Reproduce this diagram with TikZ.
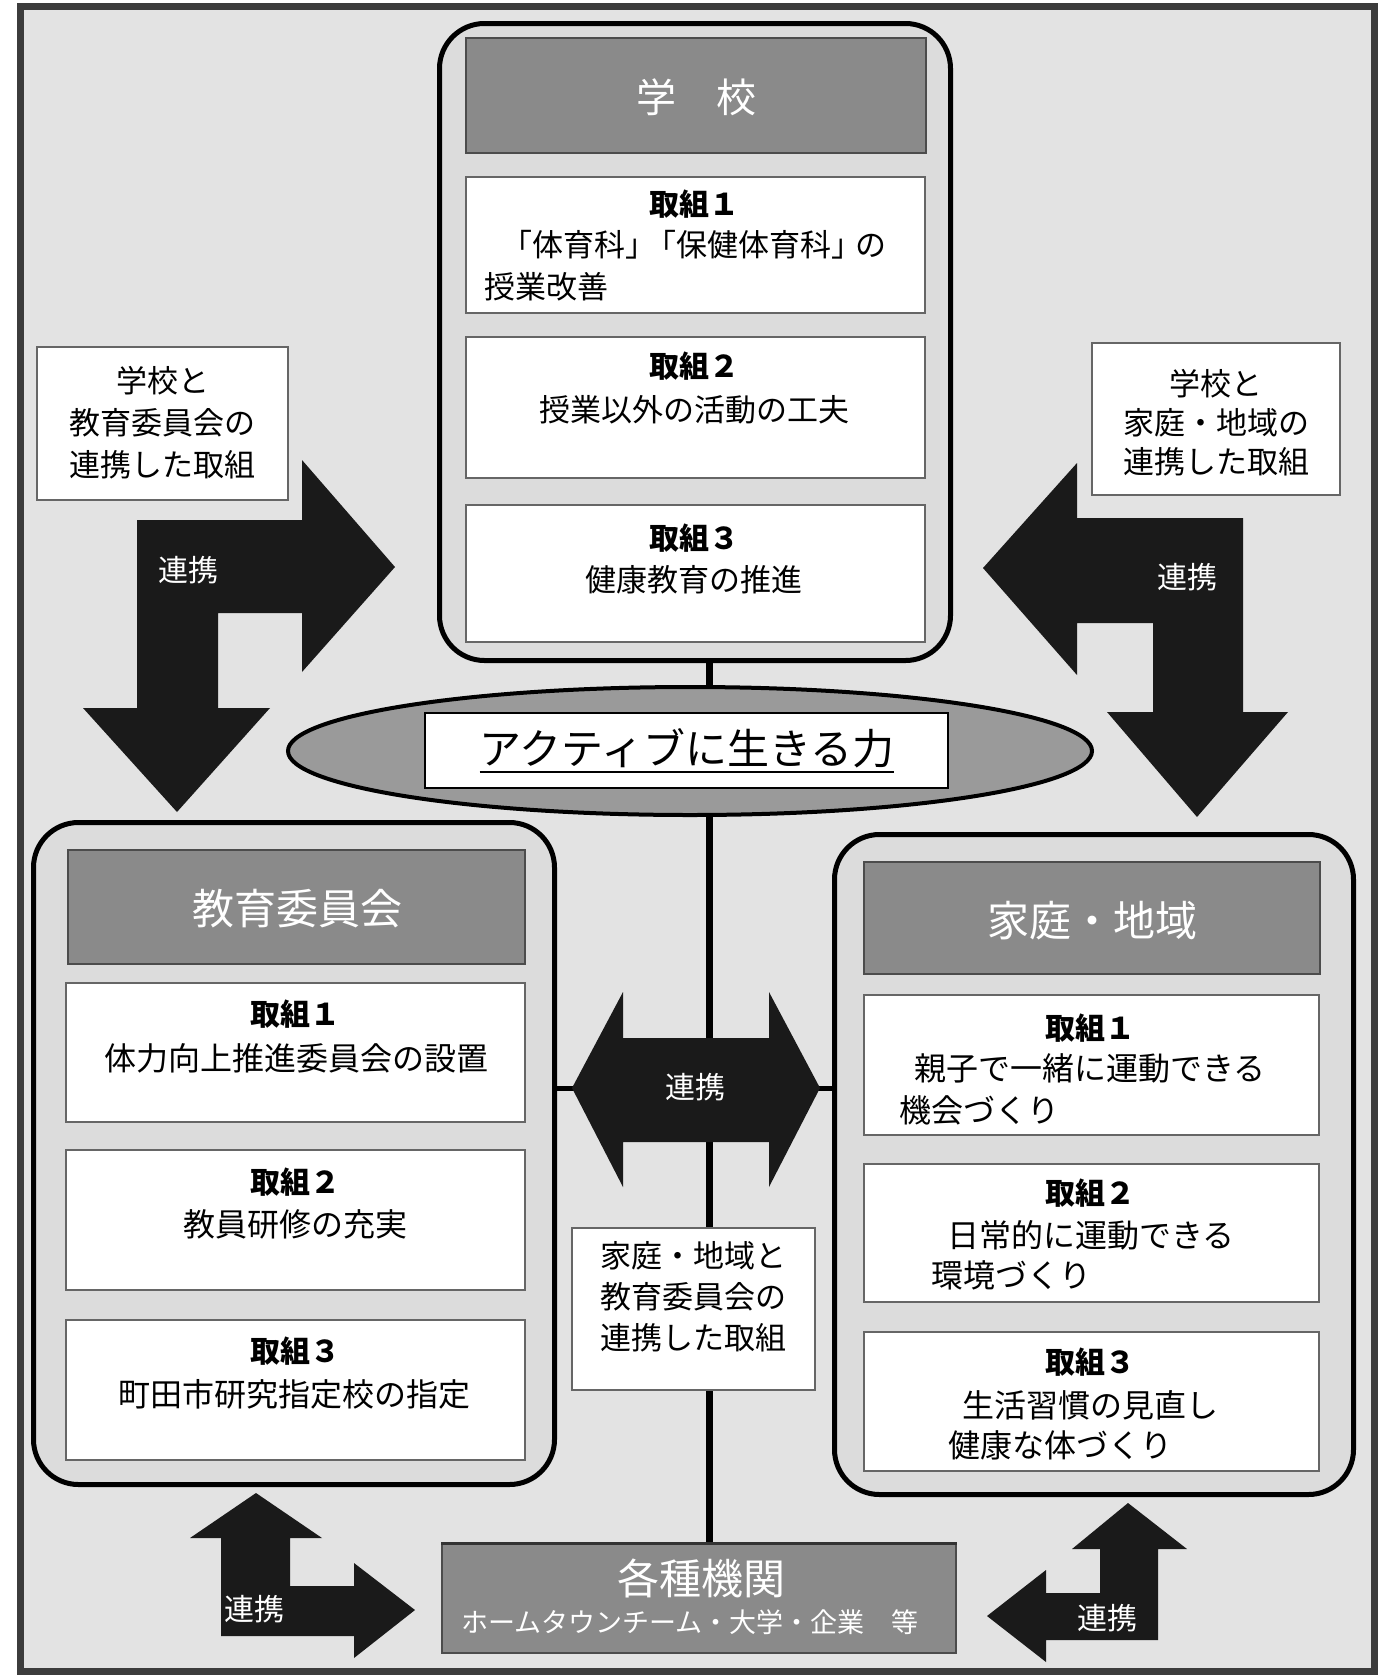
\documentclass[tikz,border=0pt]{standalone}
\usepackage{fontspec}
\usepackage{graphicx}
\setmainfont{Noto Sans CJK JP}
\usetikzlibrary{shapes.geometric}
\pgfdeclarelayer{back}
\pgfdeclarelayer{lines}
\pgfsetlayers{back,lines,main}
\definecolor{bggray}{HTML}{E3E3E3}
\definecolor{panelgray}{HTML}{DCDCDC}
\definecolor{headgray}{HTML}{8A8A8A}
\definecolor{ellgray}{HTML}{9A9A9A}
\definecolor{framegray}{HTML}{3C3C3C}
\definecolor{arrowblack}{HTML}{1A1A1A}
\newcommand\myfs[2]{\fontsize{#1pt}{#2pt}\selectfont}
\tikzset{
  panel/.style={draw=black, line width=5pt, rounded corners=45pt, fill=panelgray, inner sep=0pt, outer sep=0pt},
  headbox/.style={draw=black!70, line width=1.5pt, fill=headgray, inner sep=0pt},
  itembox/.style={draw=black!60, line width=1.2pt, fill=white, inner sep=0pt},
  labbox/.style={draw=black!60, line width=1.2pt, fill=white, inner sep=0pt},
  ttl/.style={font=\myfs{30}{36}\bfseries, inner sep=0pt},
  txt/.style={font=\myfs{31}{36}, inner sep=0pt},
  txtr/.style={font=\myfs{32}{36}, inner sep=0pt},
  hdr/.style={text=white, font=\myfs{42}{48}, inner sep=0pt},
  labtxt/.style={font=\myfs{31}{42}, align=center, inner sep=0pt},
  rk/.style={text=white, font=\myfs{30}{36}, inner sep=0pt},
  blk/.style={fill=arrowblack, draw=none},
  conn/.style={draw=black, line width=7pt},
  hconn/.style={draw=black, line width=5pt}
}
\begin{document}
\begin{tikzpicture}[x=1pt, y=-1pt]
\useasboundingbox (0,0) rectangle (1383,1676);
\begin{pgfonlayer}{back}
\fill[white] (0,0) rectangle (1383,1676);
\draw[framegray, line width=7pt, fill=bggray] (20,6.5) rectangle (1374,1671);
\end{pgfonlayer}

% coordinates for connectors
\coordinate (vx) at (709,0);
\coordinate (ay) at (0,1088);

% main nodes
\node[panel, minimum width=511pt, minimum height=637pt] (tp) at (695,342) {};
\node[panel, minimum width=521pt, minimum height=662pt] (lp) at (294,1153.5) {};
\node[panel, minimum width=519pt, minimum height=660pt] (rp) at (1094,1164.5) {};
\node[ellipse, draw=black, line width=4pt, fill=ellgray, minimum width=804pt, minimum height=128pt, inner sep=0pt] (ell) at (690,751) {};
\node[draw=black!70, line width=1.5pt, fill=headgray, minimum width=514pt, minimum height=109pt, inner sep=0pt] (bx) at (699,1598.5) {};
\draw[line width=3pt, black!80] (bx.north west) -- (bx.north east);

% connectors, behind the nodes
\begin{pgfonlayer}{lines}
\draw[conn] (tp.south -| vx) -- (ell.north -| vx);
\draw[conn] (ell.south -| vx) -- (bx.north -| vx);
\draw[hconn] (lp.east |- ay) -- (rp.west |- ay);
\end{pgfonlayer}

% top panel contents
\node[headbox, minimum width=460pt, minimum height=115pt] (tH) at (696,95.5) {};
\node[itembox, minimum width=459pt, minimum height=136pt] (tB1) at (695.5,245) {};
\node[itembox, minimum width=459pt, minimum height=141pt] (tB2) at (695.5,407.5) {};
\node[itembox, minimum width=459pt, minimum height=137pt] (tB3) at (695.5,573.5) {};

% left panel contents
\node[headbox, minimum width=457pt, minimum height=114pt] (lH) at (296.5,907) {};
\node[itembox, minimum width=459pt, minimum height=139pt] (lB1) at (295.5,1052.5) {};
\node[itembox, minimum width=459pt, minimum height=140pt] (lB2) at (295.5,1220) {};
\node[itembox, minimum width=459pt, minimum height=140pt] (lB3) at (295.5,1390) {};

% right panel contents
\node[headbox, minimum width=456pt, minimum height=112pt] (rH) at (1092,918) {};
\node[itembox, minimum width=455pt, minimum height=140pt] (rB1) at (1091.5,1065) {};
\node[itembox, minimum width=455pt, minimum height=138pt] (rB2) at (1091.5,1233) {};
\node[itembox, minimum width=455pt, minimum height=139pt] (rB3) at (1091.5,1401.5) {};

% central label in ellipse
\node[draw=black, line width=2pt, fill=white, minimum width=523pt, minimum height=75pt, inner sep=0pt] (act) at (686.5,750.5) {};

% label boxes
\node[labbox, minimum width=251pt, minimum height=153pt] (labL) at (162.5,423.5) {};
\node[labbox, minimum width=248pt, minimum height=152pt] (labR) at (1216,419) {};
\node[labbox, minimum width=243pt, minimum height=162pt] (labC) at (693.5,1309) {};

% block arrows
\fill[blk] (395,567) -- (302,460) -- (302,520) -- (137,520) -- (137,708) -- (83,708) -- (177,812) -- (270,708) -- (218,708) -- (218,613) -- (302,613) -- (302,672) -- cycle;
\fill[blk] (983,568) -- (1077,463) -- (1077,518) -- (1243,518) -- (1243,712) -- (1288,712) -- (1197,817) -- (1107,712) -- (1153,712) -- (1153,623) -- (1077,623) -- (1077,675) -- cycle;
\fill[blk] (572,1088) -- (623,992) -- (623,1038) -- (769,1038) -- (769,992) -- (820,1088) -- (769,1187) -- (769,1142) -- (623,1142) -- (623,1187) -- cycle;
\fill[blk] (256,1493) -- (322,1538) -- (290,1538) -- (290,1586) -- (354,1586) -- (354,1563) -- (415,1610) -- (354,1658) -- (354,1636) -- (221,1636) -- (221,1538) -- (190,1538) -- cycle;
\fill[blk] (1128,1503) -- (1187,1549) -- (1158,1549) -- (1158,1640) -- (1046,1640) -- (1046,1662) -- (987,1616) -- (1046,1570) -- (1046,1593) -- (1100,1593) -- (1100,1549) -- (1072,1549) -- cycle;

% ===== texts =====
\node[hdr, font=\myfs{40}{48}] (tHt) at (696,97) {学　校};
\node[ttl] (t1a) at (694,204) {取組１};
\node[txt] (t1b) at (694,245) {「体育科」\hspace{-0.35em}「保健体育科」\hspace{-0.2em}の};
\node[txt, anchor=west] (t1c) at (484,287) {授業改善};
\node[ttl] (t2a) at (694,366) {取組２};
\node[txt] (t2b) at (694,410) {授業以外の活動の工夫};
\node[ttl] (t3a) at (694,538) {取組３};
\node[txt] (t3b) at (694,580) {健康教育の推進};

\node[hdr] (lHt) at (297,909) {教育委員会};
\node[ttl] (l1a) at (295,1014) {取組１};
\node[txtr] (l1b) at (296,1058) {体力向上推進委員会の設置};
\node[ttl] (l2a) at (295,1182) {取組２};
\node[txtr] (l2b) at (295,1224) {教員研修の充実};
\node[ttl] (l3a) at (295,1351) {取組３};
\node[txtr] (l3b) at (294,1394) {町田市研究指定校の指定};

\node[hdr] (rHt) at (1092,921) {家庭・地域};
\node[ttl] (r1a) at (1090,1028) {取組１};
\node[txtr] (r1b) at (1090,1068) {親子で一緒に運動できる};
\node[txtr, anchor=west] (r1c) at (899,1110) {機会づくり};
\node[ttl] (r2a) at (1090,1193) {取組２};
\node[txtr] (r2b) at (1091,1235) {日常的に運動できる};
\node[txtr, anchor=west] (r2c) at (931,1275) {環境づくり};
\node[ttl] (r3a) at (1090,1362) {取組３};
\node[txtr] (r3b) at (1090,1405) {生活習慣の見直し};
\node[txtr, anchor=west] (r3c) at (948,1445) {健康な体づくり};

\node[font=\myfs{42}{48}, inner sep=0pt] (actt) at (687,748) {アクティブに生きる力};
\draw[line width=1.8pt] ([yshift=-8pt]actt.base west) -- ([yshift=-8pt]actt.base east);

\node[labtxt] (labLt) at (162.5,423) {学校と\\教育委員会の\\連携した取組};
\node[labtxt, font=\myfs{31}{39}] (labRt) at (1216,423) {学校と\\家庭・地域の\\連携した取組};
\node[labtxt, font=\myfs{31}{41}] (labCt) at (693,1297) {家庭・地域と\\教育委員会の\\連携した取組};

\node[rk] (rk1) at (188,570) {連携};
\node[rk] (rk2) at (1187,577) {連携};
\node[rk] (rk3) at (695,1087) {連携};
\node[rk] (rk4) at (254,1609) {連携};
\node[rk] (rk5) at (1107,1618) {連携};

\node[text=white, font=\myfs{42}{48}, inner sep=0pt] (bxt1) at (701,1578) {各種機関};
\node[text=white, font=\myfs{27}{32}, inner sep=0pt] (bxt2) at (690,1622) {ホームタウンチーム・大学・企業　等};
\end{tikzpicture}
\end{document}
